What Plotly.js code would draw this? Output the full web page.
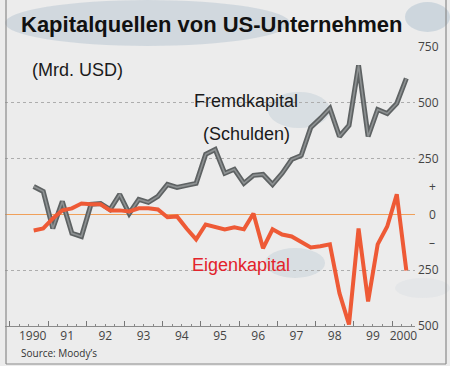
<!DOCTYPE html>
<html><head><meta charset="utf-8">
<script src="https://cdn.plot.ly/plotly-3.0.1.min.js"></script>
<style>html,body{margin:0;padding:0;background:#ececec}</style>
</head><body><div id="chart" style="width:450px;height:366px"></div>
<script>
const quarters = ["1990Q3","1990Q4","1991Q1","1991Q2","1991Q3","1991Q4","1992Q1","1992Q2","1992Q3","1992Q4",
"1993Q1","1993Q2","1993Q3","1993Q4","1994Q1","1994Q2","1994Q3","1994Q4","1995Q1","1995Q2",
"1995Q3","1995Q4","1996Q1","1996Q2","1996Q3","1996Q4","1997Q1","1997Q2","1997Q3","1997Q4",
"1998Q1","1998Q2","1998Q3","1998Q4","1999Q1","1999Q2","1999Q3","1999Q4","2000Q1","2000Q2"];
const fremdkapital = [125,103,-63,58,-85,-99,45,49,22,90,4,67,54,81,134,121,130,139,269,291,184,202,139,175,179,134,184,246,264,390,430,475,349,399,668,349,470,452,497,609];
const eigenkapital = [-72,-63,-18,18,27,49,45,45,18,18,13,27,27,22,-13,-9,-63,-112,-45,-54,-67,-58,-67,4,-152,-67,-90,-99,-121,-148,-143,-134,-353,-493,-63,-390,-134,-54,90,-251];
const yearTicks = [1990,1991,1992,1993,1994,1995,1996,1997,1998,1999,2000];
const yearLabels = ["1990","91","92","93","94","95","96","97","98","99","2000"];
const yearLabelPos = [1990.6,1991.5,1992.5,1993.5,1994.5,1995.5,1996.5,1997.5,1998.5,1999.5,2000.3];
const yTickVals = [750,500,250,-250,-500];
const yTickText = ["750","500","250","250","500"];
const ySignVals = [125,0,-125];
const ySignText = ["+","0","\u2013"];

const xq = quarters.map(q => +q.slice(0,4) + (+q.slice(5)-1)/4 + 0.125);

// pixel -> paper helpers (plot area: x 5..415, y 47..326)
const L=5, R=415, T=47, B=326;
const px = v => (v-L)/(R-L);
const py = v => (B-v)/(B-T);

const traces = [
  {x:xq, y:fremdkapital, mode:'lines', line:{color:'#5e6263', width:5}, hoverinfo:'skip', showlegend:false},
  {x:xq, y:fremdkapital, mode:'lines', line:{color:'#8d9192', width:1.6}, hoverinfo:'skip', showlegend:false},
  {x:xq, y:eigenkapital, mode:'lines', line:{color:'#ee5a36', width:4}, hoverinfo:'skip', showlegend:false},
  {x:[null], y:[null], xaxis:'x2', yaxis:'y2', mode:'lines', hoverinfo:'skip', showlegend:false}
];

const tickFont = {family:'Open Sans', size:12, color:'#444'};
const rangeX = [1990 + (L-9.8)/38.22, 1990 + (R-9.8)/38.22];
const rangeY = [-500, 750];

const blob = (x0,y0,x1,y1,op) => ({type:'circle', xref:'paper', yref:'paper', x0:px(x0), x1:px(x1), y0:py(y1), y1:py(y0),
  fillcolor:'#a9bccb', opacity:op, line:{width:0}, layer:'below'});
const ln = (x0,y0,x1,y1) => ({type:'line', xref:'paper', yref:'paper', x0:px(x0), x1:px(x1), y0:py(y0), y1:py(y1), line:{color:'#8a8a8a', width:1.2}});

const layout = {
  width:450, height:366,
  margin:{l:L, r:450-R, t:T, b:366-B},
  paper_bgcolor:'#ececec', plot_bgcolor:'rgba(0,0,0,0)',
  title:{text:'<b>Kapitalquellen von US-Unternehmen</b>', font:{family:'Liberation Sans', size:22, color:'#111'},
    x:21/450, xref:'container', xanchor:'left', y:1-24/366, yref:'container', yanchor:'middle'},
  xaxis:{range:rangeX, tickmode:'array', tickvals:yearTicks, showticklabels:false, ticks:'inside', ticklen:5, tickcolor:'#777', tickwidth:1,
    minor:{tickmode:'linear', tick0:1990, dtick:0.25, ticks:'inside', ticklen:2, tickcolor:'#888', showgrid:false},
    showgrid:false, zeroline:false, showline:true, linecolor:'#8a8a8a', linewidth:1, fixedrange:true},
  xaxis2:{range:rangeX, overlaying:'x', anchor:'y', side:'bottom', tickmode:'array', tickvals:yearLabelPos, ticktext:yearLabels,
    ticks:'', showgrid:false, zeroline:false, showline:false, tickfont:tickFont, ticklabelstandoff:1},
  yaxis:{range:rangeY, side:'right', tickmode:'array', tickvals:yTickVals, ticktext:yTickText, ticks:'',
    showgrid:true, gridcolor:'#adadad', griddash:'dot', gridwidth:1, zeroline:true, zerolinecolor:'#f0a05a', zerolinewidth:1,
    showline:false, tickfont:tickFont, ticklabelstandoff:2},
  yaxis2:{range:rangeY, overlaying:'y', anchor:'x', side:'right', tickmode:'array', tickvals:ySignVals, ticktext:ySignText, ticks:'',
    showgrid:false, zeroline:false, showline:false, tickfont:tickFont, ticklabelstandoff:13},
  shapes:[
    blob(5,0,290,46,0.4), blob(405,2,450,32,0.45), blob(268,92,330,128,0.3), blob(265,248,325,278,0.3), blob(395,278,450,298,0.12),
    ln(6,0,6,364), ln(6,364,446,364), ln(446,0,446,364)
  ],
  annotations:[
    {text:'(Mrd. USD)', xref:'paper', yref:'paper', x:px(30), y:py(70), xanchor:'left', yanchor:'middle', showarrow:false,
      font:{family:'Liberation Sans', size:18, color:'#1a1a1a'}},
    {text:'Fremdkapital', xref:'paper', yref:'paper', x:px(245.5), y:py(101), xanchor:'center', yanchor:'middle', showarrow:false,
      font:{family:'Liberation Sans', size:18, color:'#1a1a1a'}},
    {text:'(Schulden)', xref:'paper', yref:'paper', x:px(246.5), y:py(134), xanchor:'center', yanchor:'middle', showarrow:false,
      font:{family:'Liberation Sans', size:18, color:'#1a1a1a'}},
    {text:'Eigenkapital', xref:'paper', yref:'paper', x:px(241), y:py(265), xanchor:'center', yanchor:'middle', showarrow:false,
      font:{family:'Liberation Sans', size:18, color:'#e3232b'}},
    {text:"Source: Moody\u2019s", xref:'paper', yref:'paper', x:px(19), y:py(353), xanchor:'left', yanchor:'middle', showarrow:false,
      font:{family:'Open Sans', size:10, color:'#333'}}
  ]
};

Plotly.newPlot('chart', traces, layout, {staticPlot:true, displayModeBar:false});
</script></body></html>
